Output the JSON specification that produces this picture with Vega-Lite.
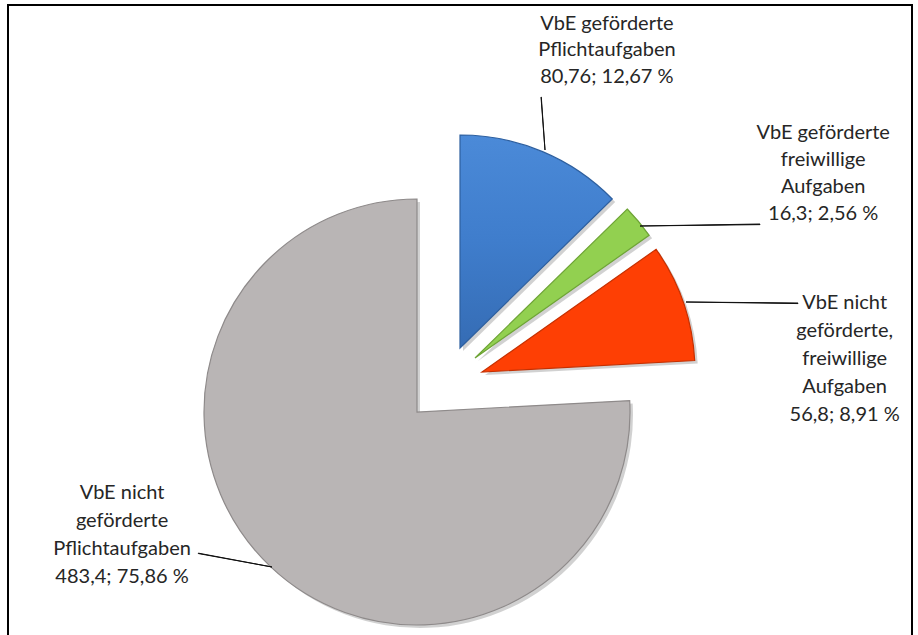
{
  "$schema": "https://vega.github.io/schema/vega-lite/v6.json",
  "width": 904,
  "height": 634,
  "autosize": {"type": "none"},
  "padding": {"left": 8, "top": 5, "right": 6, "bottom": 0},
  "background": "white",
  "config": {"view": {"stroke": "#000000", "strokeWidth": 2}},
  "data": {
    "values": [
      {"key": "a", "kategorie": "VbE geförderte Pflichtaufgaben", "label": "VbE geförderte\nPflichtaufgaben\n80,76; 12,67 %", "value": 80.76, "anteil": 12.67, "idx": 1},
      {"key": "b", "kategorie": "VbE geförderte freiwillige Aufgaben", "label": "VbE geförderte\nfreiwillige\nAufgaben\n16,3; 2,56 %", "value": 16.3, "anteil": 2.56, "idx": 2},
      {"key": "c", "kategorie": "VbE nicht geförderte, freiwillige Aufgaben", "label": "VbE nicht\ngeförderte,\nfreiwillige\nAufgaben\n56,8; 8,91 %", "value": 56.8, "anteil": 8.91, "idx": 3},
      {"key": "d", "kategorie": "VbE nicht geförderte Pflichtaufgaben", "label": "VbE nicht\ngeförderte\nPflichtaufgaben\n483,4; 75,86 %", "value": 483.4, "anteil": 75.86, "idx": 4}
    ]
  },
  "layer": [
    {
      "mark": {"type": "point", "opacity": 0, "size": 0},
      "encoding": {
        "x": {"datum": 0, "type": "quantitative", "axis": null, "scale": {"domain": [-1, 1]}},
        "y": {"datum": 0, "type": "quantitative", "axis": null, "scale": {"domain": [-1, 1]}}
      }
    },
    {
      "encoding": {
        "theta": {"field": "value", "type": "quantitative", "stack": true},
        "order": {"field": "idx", "type": "quantitative"},
        "color": {
          "field": "key",
          "type": "nominal",
          "legend": null,
          "scale": {"domain": ["a", "b", "c", "d"], "range": ["#3f7dcc", "#92d050", "#fe3f04", "#b9b5b5"]}
        }
      },
      "layer": [
        {"mark": {"type": "arc", "radius": 213, "xOffset": -40, "yOffset": 93, "strokeWidth": 0},
         "encoding": {"color": {"value": "#000000"}, "opacity": {"condition": {"test": "datum.key === 'd'", "value": 0.18}, "value": 0}}},
        {"mark": {"type": "arc", "radius": 213, "xOffset": -43, "yOffset": 90, "stroke": "#8e8a8a", "strokeWidth": 1.2},
         "encoding": {"opacity": {"condition": {"test": "datum.key === 'd'", "value": 1}, "value": 0}}},

        {"mark": {"type": "arc", "radius": 213, "xOffset": 3, "yOffset": 29, "strokeWidth": 0},
         "encoding": {"color": {"value": "#000000"}, "opacity": {"condition": {"test": "datum.key === 'a'", "value": 0.18}, "value": 0}}},
        {"mark": {"type": "arc", "radius": 213, "xOffset": 0, "yOffset": 26, "stroke": "#2d5f9f", "strokeWidth": 1.2},
         "encoding": {
           "color": {"value": {"gradient": "linear", "x1": 0, "y1": 0, "x2": 0, "y2": 1, "stops": [{"offset": 0, "color": "#4b8ad8"}, {"offset": 0.5, "color": "#3f7dcc"}, {"offset": 1, "color": "#356cb4"}]}},
           "opacity": {"condition": {"test": "datum.key === 'a'", "value": 1}, "value": 0}}},

        {"mark": {"type": "arc", "radius": 213, "xOffset": 18, "yOffset": 39, "strokeWidth": 0},
         "encoding": {"color": {"value": "#000000"}, "opacity": {"condition": {"test": "datum.key === 'b'", "value": 0.18}, "value": 0}}},
        {"mark": {"type": "arc", "radius": 213, "xOffset": 15, "yOffset": 36, "stroke": "#6ea436", "strokeWidth": 1.2},
         "encoding": {"opacity": {"condition": {"test": "datum.key === 'b'", "value": 1}, "value": 0}}},

        {"mark": {"type": "arc", "radius": 213, "xOffset": 25, "yOffset": 53, "strokeWidth": 0},
         "encoding": {"color": {"value": "#000000"}, "opacity": {"condition": {"test": "datum.key === 'c'", "value": 0.18}, "value": 0}}},
        {"mark": {"type": "arc", "radius": 213, "xOffset": 22, "yOffset": 50, "stroke": "#c63000", "strokeWidth": 1.2},
         "encoding": {"opacity": {"condition": {"test": "datum.key === 'c'", "value": 1}, "value": 0}}},

        {"mark": {"type": "text", "radius": 335, "thetaOffset": 0.0559, "xOffset": 0, "yOffset": 26, "dy": -23, "font": "Lato", "fontSize": 20, "lineHeight": 26.5, "align": "center", "baseline": "middle", "lineBreak": "\n"},
         "encoding": {"color": {"value": "#262626"}, "text": {"condition": {"test": "datum.key === 'a'", "field": "label", "type": "nominal"}, "value": ""}}},
        {"mark": {"type": "text", "radius": 395, "thetaOffset": 0.2025, "xOffset": 15, "yOffset": 36, "dy": -39, "font": "Lato", "fontSize": 20, "lineHeight": 27, "align": "center", "baseline": "middle", "lineBreak": "\n"},
         "encoding": {"color": {"value": "#262626"}, "text": {"condition": {"test": "datum.key === 'b'", "field": "label", "type": "nominal"}, "value": ""}}},
        {"mark": {"type": "text", "radius": 363, "thetaOffset": 0.2906, "xOffset": 22, "yOffset": 50, "dy": -53, "font": "Lato", "fontSize": 20, "lineHeight": 28, "align": "center", "baseline": "middle", "lineBreak": "\n"},
         "encoding": {"color": {"value": "#262626"}, "text": {"condition": {"test": "datum.key === 'c'", "field": "label", "type": "nominal"}, "value": ""}}},
        {"mark": {"type": "text", "radius": 319, "thetaOffset": 0.4215, "xOffset": -43, "yOffset": 90, "dy": -41, "font": "Lato", "fontSize": 20, "lineHeight": 28, "align": "center", "baseline": "middle", "lineBreak": "\n"},
         "encoding": {"color": {"value": "#262626"}, "text": {"condition": {"test": "datum.key === 'd'", "field": "label", "type": "nominal"}, "value": ""}}}
      ]
    },
    {"transform": [{"filter": "datum.key === 'a'"}],
     "mark": {"type": "arc", "theta": 6.2081, "theta2": 6.2134, "radius": 53, "radius2": 0, "xOffset": 85, "yOffset": -172, "fill": "#111111", "stroke": "#111111", "strokeWidth": 1},
     "encoding": {}},
    {"transform": [{"filter": "datum.key === 'b'"}],
     "mark": {"type": "arc", "theta": 1.5542, "theta2": 1.5594, "radius": 120, "radius2": 0, "xOffset": 180, "yOffset": -96, "fill": "#111111", "stroke": "#111111", "strokeWidth": 1},
     "encoding": {}},
    {"transform": [{"filter": "datum.key === 'c'"}],
     "mark": {"type": "arc", "theta": 1.5795, "theta2": 1.5848, "radius": 112, "radius2": 0, "xOffset": 226, "yOffset": -20, "fill": "#111111", "stroke": "#111111", "strokeWidth": 1},
     "encoding": {}},
    {"transform": [{"filter": "datum.key === 'd'"}],
     "mark": {"type": "arc", "theta": 4.893, "theta2": 4.8983, "radius": 75, "radius2": 0, "xOffset": -188, "yOffset": 245, "fill": "#111111", "stroke": "#111111", "strokeWidth": 1},
     "encoding": {}}
  ]
}
